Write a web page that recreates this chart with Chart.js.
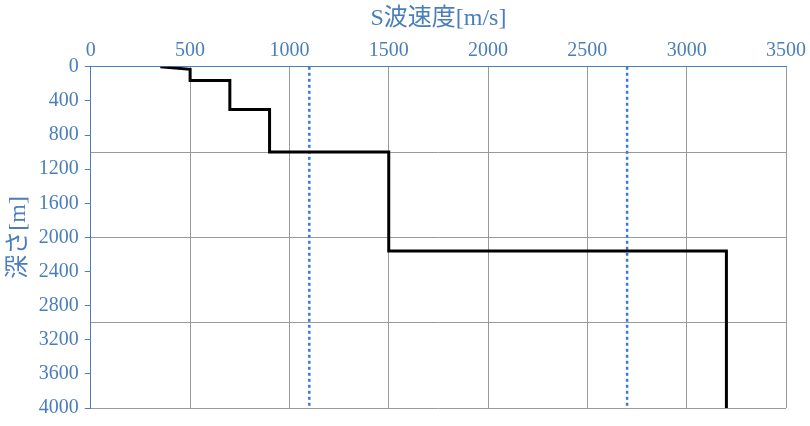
<!DOCTYPE html>
<html><head><meta charset="utf-8">
<script src="https://cdn.jsdelivr.net/npm/chart.js@4"></script>
<style>html,body{margin:0;background:#fff}#w{width:810px;height:426px}</style>
</head><body><div id="w"><canvas id="c"></canvas></div>
<script>
const velocity = [350, 500, 500, 700, 700, 900, 900, 1500, 1500, 3200, 3200];
const depth = [0, 30, 160, 160, 500, 500, 1000, 1000, 2160, 2160, 4000];
const refLines = [1100, 2700];
const blue = "#4a7ebb";
const font = {family: "'Liberation Serif','Noto Sans CJK JP',serif", size: 20};
const fmt = v => String(v);

const datasets = [{
  data: velocity.map((v, i) => ({x: v, y: depth[i]})),
  showLine: true, borderColor: "#000", borderWidth: 3, pointRadius: 0, yAxisID: "y"
}];
refLines.forEach(v => datasets.push({
  data: [{x: v, y: 0}, {x: v, y: 4000}],
  showLine: true, borderColor: "#3b7bd8", borderWidth: 2.5, borderDash: [3, 3], pointRadius: 0, yAxisID: "y"
}));

new Chart(document.getElementById("c"), {
  type: "scatter",
  data: {datasets},
  options: {
    responsive: true, maintainAspectRatio: false, animation: false,
    layout: {padding: {right: 10, bottom: 16, left: 4, top: 4}},
    plugins: {legend: {display: false}, tooltip: {enabled: false}},
    scales: {
      x: {
        position: "top", min: 0, max: 3500,
        ticks: {stepSize: 500, color: blue, font, padding: 4, callback: fmt},
        grid: {color: "#9a9a9a", tickLength: 0},
        border: {color: blue},
        title: {display: true, text: "S波速度[m/s]", color: blue, font: {...font, size: 24}, padding: {top: 0, bottom: 2}}
      },
      y: {
        reverse: true, min: 0, max: 4000,
        ticks: {stepSize: 400, color: blue, font, padding: 6, callback: fmt},
        grid: {drawOnChartArea: false, color: blue, tickLength: 6},
        border: {color: blue},
        title: {display: true, text: "深さ[m]", color: blue, font: {...font, size: 24}, padding: 0}
      },
      y2: {
        reverse: true, min: 0, max: 4000, display: true,
        ticks: {stepSize: 1000, display: false},
        grid: {color: "#9a9a9a", drawTicks: false},
        border: {display: false}
      }
    }
  }
});
</script></body></html>
